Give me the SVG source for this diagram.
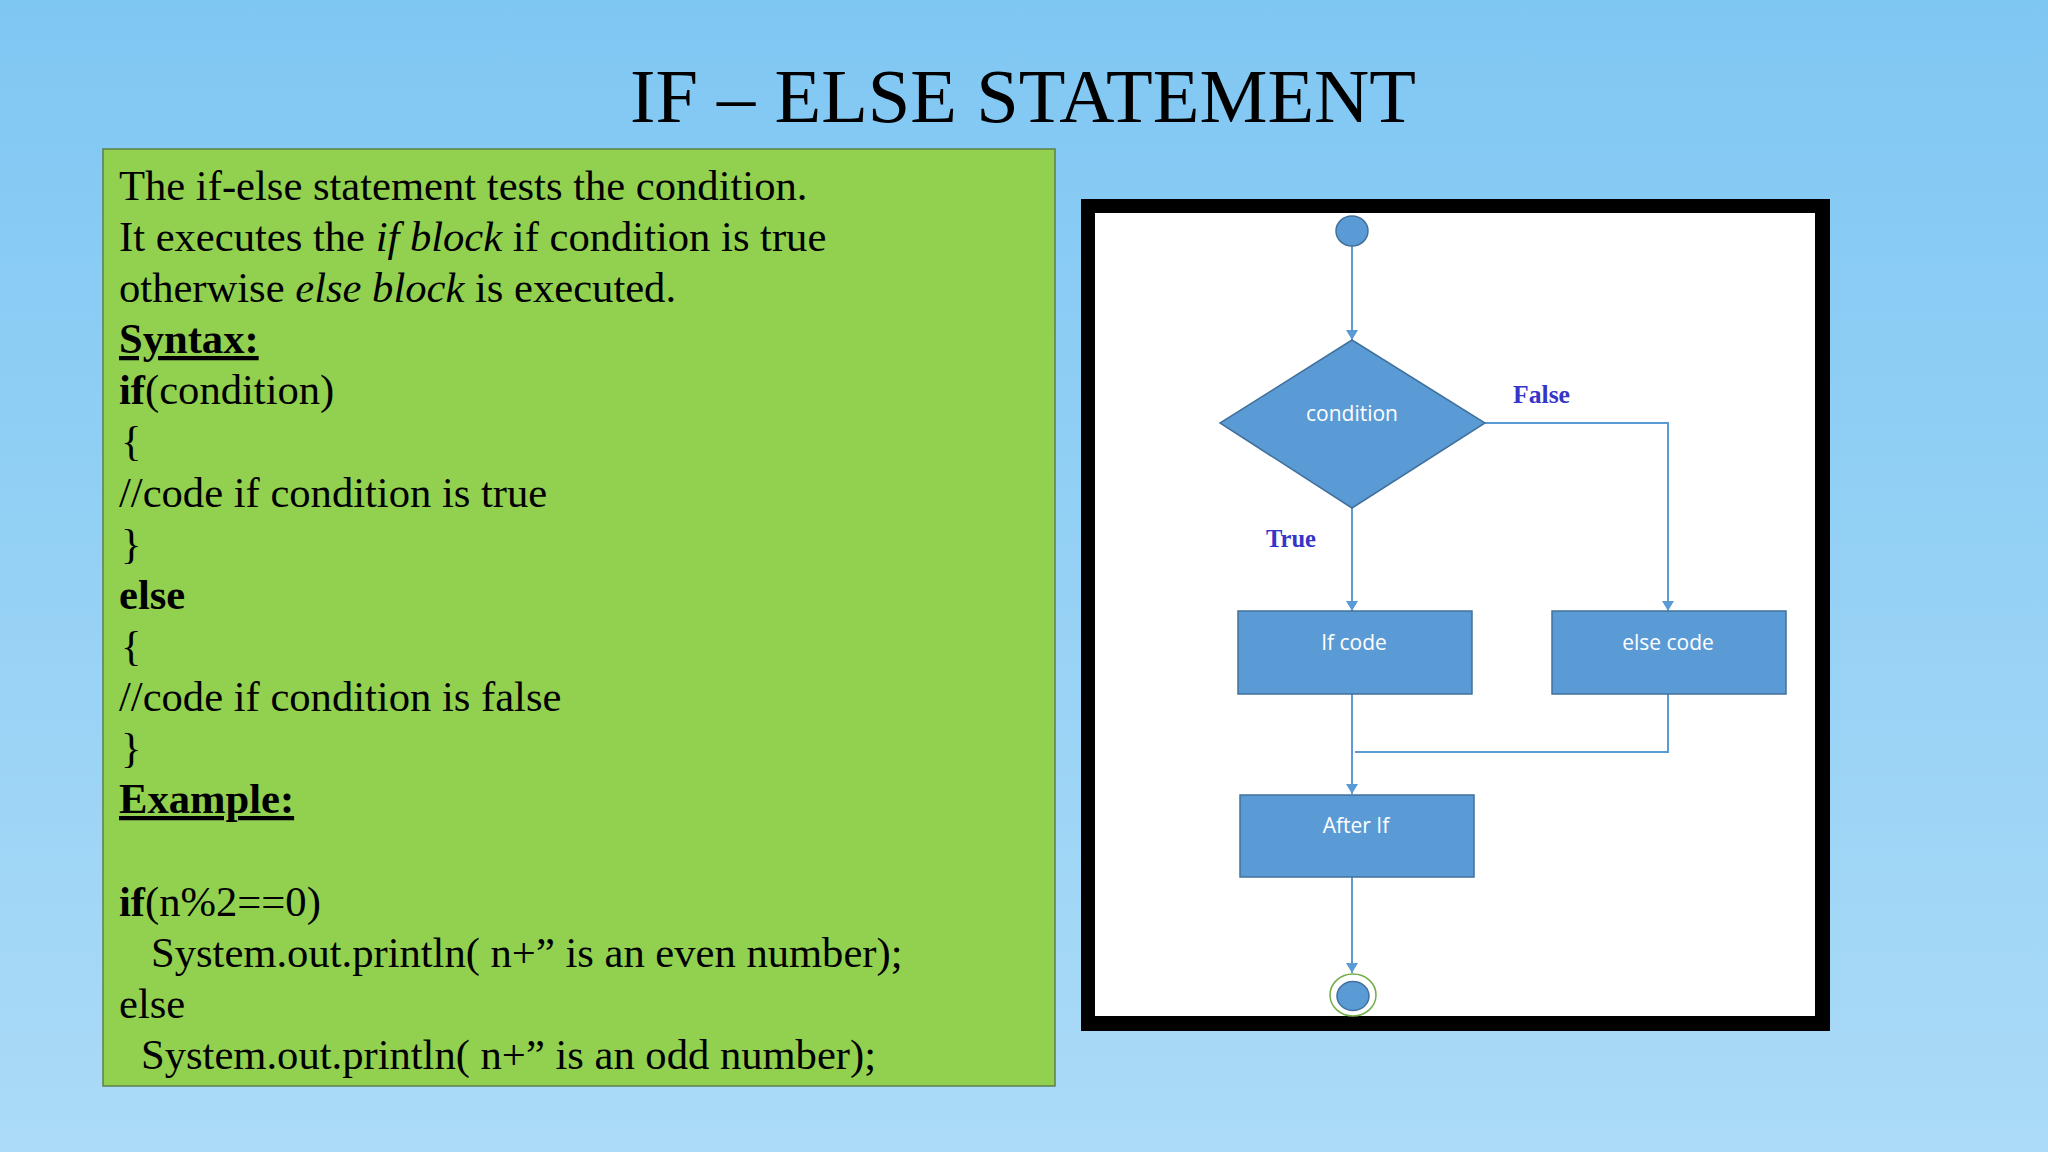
<svg xmlns="http://www.w3.org/2000/svg" width="2048" height="1152" viewBox="0 0 2048 1152">
<defs>
<linearGradient id="bg" x1="0" y1="0" x2="0" y2="1">
<stop offset="0" stop-color="#7FC7F3"/>
<stop offset="1" stop-color="#ABDBF7"/>
</linearGradient>
<marker id="arr" markerUnits="userSpaceOnUse" markerWidth="10" markerHeight="12" viewBox="0 0 10 12" refX="10" refY="6" orient="auto">
<path d="M0,0 L10,6 L0,12 z" fill="#5B9BD5"/>
</marker>
</defs>
<style>
.body{font-family:"Liberation Serif","Times New Roman",serif;font-size:42.6px;fill:#000}
.b{font-weight:bold}
.i{font-style:italic}
.u{text-decoration:underline}
.shape{fill:#5B9BD5;stroke:#41719C;stroke-width:1.5}
.lbl{font-family:"Open Sans","Noto Sans",sans-serif;font-size:21px;fill:#fff;text-anchor:middle}
.tf{font-family:"Liberation Serif","Times New Roman",serif;font-weight:bold;font-size:26px;fill:#3535C8}
.conn{fill:none;stroke:#5B9BD5;stroke-width:2}
</style>
<rect x="0" y="0" width="2048" height="1152" fill="url(#bg)"/>
<text x="630" y="122" font-family="Liberation Serif, Times New Roman, serif" font-size="76" textLength="786" lengthAdjust="spacingAndGlyphs" fill="#000">IF – ELSE STATEMENT</text>

<g id="textbox">
<rect x="103" y="149" width="952" height="937" fill="#92D050" stroke="#5E8048" stroke-width="1.5"/>
<text class="body" x="119" y="200">The if-else statement tests the condition.</text>
<text class="body" x="119" y="251">It executes the <tspan class="i">if block</tspan> if condition is true</text>
<text class="body" x="119" y="302">otherwise <tspan class="i">else block</tspan> is executed.</text>
<text class="body b u" x="119" y="353">Syntax:</text>
<text class="body" x="119" y="404"><tspan class="b">if</tspan>(condition)</text>
<text class="body" x="121" y="455">{</text>
<text class="body" x="119" y="507">//code if condition is true</text>
<text class="body" x="121" y="558">}</text>
<text class="body b" x="119" y="609">else</text>
<text class="body" x="121" y="660">{</text>
<text class="body" x="119" y="711">//code if condition is false</text>
<text class="body" x="121" y="762">}</text>
<text class="body b u" x="119" y="813">Example:</text>
<text class="body" x="119" y="916"><tspan class="b">if</tspan>(n%2==0)</text>
<text class="body" x="151" y="967">System.out.println( n+” is an even number);</text>
<text class="body" x="119" y="1018">else</text>
<text class="body" x="141" y="1069">System.out.println( n+” is an odd number);</text>
</g>

<g id="frame">
<rect x="1081" y="199" width="749" height="832" fill="#000"/>
<rect x="1095" y="213" width="720" height="803" fill="#fff"/>
</g>

<g id="connectors">
<path class="conn" d="M1352,246 V340" marker-end="url(#arr)"/>
<path class="conn" d="M1352,508 V611" marker-end="url(#arr)"/>
<path class="conn" d="M1485,423 H1668 V611" marker-end="url(#arr)"/>
<path class="conn" d="M1352,694 V794" marker-end="url(#arr)"/>
<path class="conn" d="M1668,694 V752 H1355"/>
<path class="conn" d="M1352,877 V973" marker-end="url(#arr)"/>
<text class="tf" x="1513" y="403" textLength="57" lengthAdjust="spacingAndGlyphs">False</text>
<text class="tf" x="1266" y="547" textLength="50" lengthAdjust="spacingAndGlyphs">True</text>
</g>

<g id="start">
<ellipse cx="1352" cy="231" rx="16" ry="15" class="shape"/>
</g>
<g id="condition">
<path d="M1352,340 L1485,423 L1352,508 L1220,423 z" class="shape"/>
<text class="lbl" x="1352" y="421" font-size="22">condition</text>
</g>
<g id="ifcode">
<rect x="1238" y="611" width="234" height="83" class="shape"/>
<text class="lbl" x="1354" y="650">If code</text>
</g>
<g id="elsecode">
<rect x="1552" y="611" width="234" height="83" class="shape"/>
<text class="lbl" x="1668" y="650">else code</text>
</g>
<g id="afterif">
<rect x="1240" y="795" width="234" height="82" class="shape"/>
<text class="lbl" x="1356" y="833">After If</text>
</g>
<g id="end">
<ellipse cx="1353" cy="995" rx="23" ry="21" fill="#fff" stroke="#70AD47" stroke-width="1.5"/>
<ellipse cx="1353" cy="996" rx="16" ry="14.5" class="shape"/>
</g>
</svg>
